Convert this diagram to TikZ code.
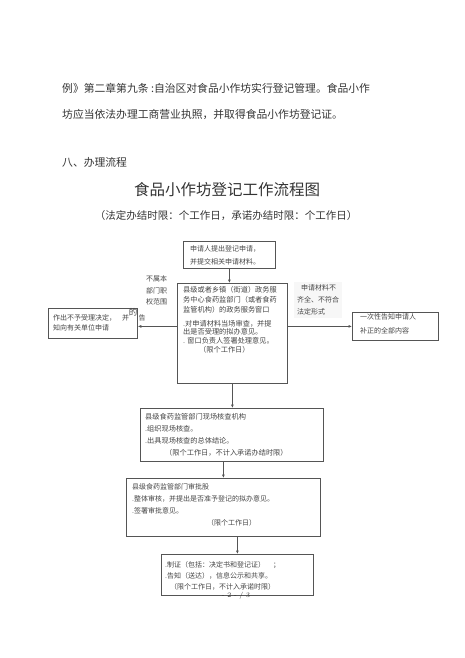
\documentclass[tikz,border=0pt]{standalone}
\usepackage{fontspec}
\newfontfamily\cjk{Noto Sans CJK SC}
\usetikzlibrary{arrows.meta}
\definecolor{txt}{HTML}{333333}
\definecolor{btxt}{HTML}{444444}
\definecolor{ln}{HTML}{555555}
\begin{document}
\begin{tikzpicture}[x=1pt,y=-1pt,
  para/.style={anchor=west,inner sep=0,text=txt,font=\cjk\fontsize{10.8}{13}\selectfont},
  boxx/.style={draw=ln,line width=0.8pt,anchor=north west,inner sep=0,minimum width=#1},
  lbl/.style={anchor=west,inner sep=0,align=left,text=btxt},
  arr/.style={draw=ln,line width=0.7pt,-{Latex[length=3.5pt,width=3pt]}}]
\useasboundingbox (0,0) rectangle (465,658);
% paragraph
\node[para] (p1) at (62,88) {例》第二章第九条 :自治区对食品小作坊实行登记管理。食品小作};
\node[para] (p2) at (62,114) {坊应当依法办理工商营业执照，并取得食品小作坊登记证。};
\node[para] (sec) at (62,162) {八、办理流程};
\node[inner sep=0,text=txt,font=\cjk\fontsize{15.5}{18}\selectfont] (title) at (227,190) {食品小作坊登记工作流程图};
\node[inner sep=0,text=txt,font=\cjk\fontsize{10.5}{13}\selectfont] (sub) at (226,216) {（法定办结时限：个工作日，承诺办结时限：个工作日）};
% boxes
\node[boxx=92pt,minimum height=27pt] (b1) at (183,241) {};
\node[boxx=110pt,minimum height=100pt] (b2) at (177,283) {};
\node[boxx=183pt,minimum height=53pt] (b3) at (140,408) {};
\node[boxx=194pt,minimum height=58pt] (b4) at (126,478) {};
\node[boxx=152pt,minimum height=41pt] (b5) at (161,554) {};
\node[boxx=89pt,minimum height=30pt] (lb) at (48,308) {};
\node[boxx=86pt,minimum height=28pt] (rb) at (352,312) {};
% box texts
\node[lbl,font=\cjk\fontsize{7}{13}\selectfont] (t1) at (190,255.5) {申请人提出登记申请，\\并提交相关申请材料。};
\node[lbl,font=\cjk\fontsize{7.2}{9.8}\selectfont] (t2a) at (183,299.5) {县级或者乡镇（街道）政务服\\务中心食药监部门（或者食药\\监管机构）的政务服务窗口};
\node[lbl,font=\cjk\fontsize{7.2}{8.6}\selectfont] (t2b) at (183,336.5) {.对申请材料当场审查，并提\\出是否受理的拟办意见。\\. 窗口负责人签署处理意见。\\\hspace*{16pt}（限个工作日）};
\node[lbl,font=\cjk\fontsize{7.2}{12}\selectfont] (t3) at (145,435) {县级食药监管部门现场核查机构\\.组织现场核查。\\.出具现场核查的总体结论。\\\hspace*{20pt}（限个工作日，不计入承诺办结时限）};
\node[lbl,font=\cjk\fontsize{7}{12}\selectfont] (t4) at (132,505) {县级食药监管部门审批股\\.整体审核，并提出是否准予登记的拟办意见。\\.签署审批意见。\\\hspace*{75pt}（限个工作日）};
\node[lbl,font=\cjk\fontsize{7}{11}\selectfont] (t5) at (165,576) {.制证（包括：决定书和登记证）\hspace{8pt}；\\.告知（送达），信息公示和共享。\\\hspace*{5pt}（限个工作日，不计入承诺时限）};
\node[lbl,font=\cjk\fontsize{7}{10.5}\selectfont] (tl) at (53,323) {作出不予受理决定，\hspace{6pt}并\\知向有关单位申请};
\node[lbl,font=\cjk\fontsize{7}{14.5}\selectfont] (tr) at (360,324) {一次性告知申请人\\补正的全部内容};
% side labels
\node[lbl,font=\cjk\fontsize{7}{11.5}\selectfont] (ll) at (146,290.5) {不属本\\部门职\\权范围};
\node[lbl,fill=black!3,inner sep=3pt,font=\cjk\fontsize{7}{12}\selectfont] (rl) at (294,300) {\hspace*{4pt}申请材料不\\齐全、不符合\\法定形式};
\node[inner sep=0,text=btxt,font=\cjk\fontsize{8.5}{10}\selectfont] (de) at (133,312) {的};
\node[inner sep=0,text=btxt,font=\cjk\fontsize{7}{10}\selectfont] (gao) at (142,318) {告};
% arrows
\draw[arr] (b1.south) -- (b1.south |- b2.north);
\draw[arr] (b2.south) -- (b2.south |- b3.north);
\draw[arr] (b3.south -| b4.south) -- (b4.north);
\draw[arr] (b4.south -| b5.north) -- (b5.north);
\draw[arr] (b2.west |- rb.west) -- (lb.east |- rb.west);
\draw[arr] (b2.east |- rb.west) -- (rb.west);
% page number
\node[inner sep=0,text=txt,font=\fontsize{7}{8}\selectfont] (pg) at (236,596) {- 2 - / 3};
\end{tikzpicture}
\end{document}
